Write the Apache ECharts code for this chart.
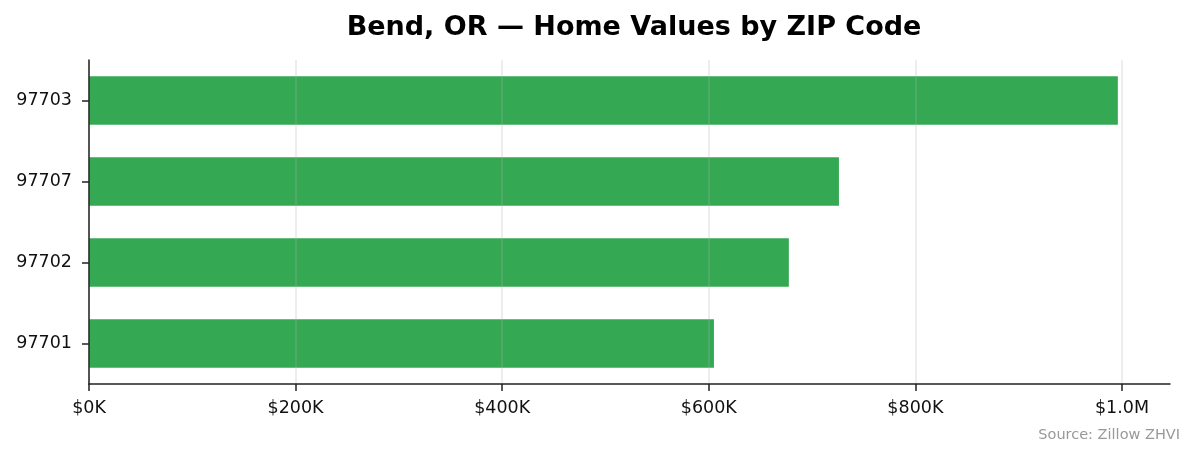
<!DOCTYPE html>
<html>
<head>
<meta charset="utf-8">
<script src="https://cdn.jsdelivr.net/npm/echarts@6/dist/echarts.min.js"></script>
<style>
  html, body { margin: 0; padding: 0; background: #fff; }
  #chart { width: 1195px; height: 455px; }
</style>
</head>
<body>
<div id="chart"></div>
<script>
// ZIP codes, bottom to top as drawn
var zipCodes = ['97701', '97702', '97707', '97703'];
// typical home value (USD)
var homeValues = [605000, 677500, 726000, 996000];
var xTicks = [0, 200000, 400000, 600000, 800000, 1000000];
var xMax = 1046500;

var barColor = '#34a853';
var font = 'DejaVu Sans';

function money(v) {
  if (v >= 1000000) return '$' + (v / 1000000).toFixed(1) + 'M';
  return '$' + Math.round(v / 1000) + 'K';
}

var chart = echarts.init(document.getElementById('chart'));

chart.setOption({
  animation: false,
  title: [{
    text: 'Bend, OR — Home Values by ZIP Code',
    left: 629,
    top: 9,
    textAlign: 'center',
    textStyle: { fontFamily: font, fontSize: 27, fontWeight: 'bold', color: '#000' }
  }, {
    text: 'Source: Zillow ZHVI',
    right: 10,
    top: 423,
    textStyle: { fontFamily: font, fontSize: 14.5, fontWeight: 'normal', color: '#999' }
  }],
  grid: { left: 89, top: 60, width: 1081, height: 324 },
  xAxis: {
    type: 'value',
    min: 0,
    max: xMax,
    z: 5,
    axisLine: { show: true, lineStyle: { color: '#222', width: 1.5 } },
    axisTick: { show: true, length: 7, customValues: xTicks, lineStyle: { color: '#222', width: 1.5 } },
    axisLabel: {
      customValues: xTicks,
      formatter: money,
      fontFamily: font, fontSize: 17.5, color: '#111', margin: 15
    },
    splitLine: { show: true, lineStyle: { color: 'rgba(176,176,176,0.3)', width: 1.5 } }
  },
  yAxis: {
    type: 'category',
    data: zipCodes,
    z: 5,
    axisLine: { show: true, lineStyle: { color: '#222', width: 1.5 } },
    axisTick: { show: true, alignWithLabel: true, length: 7, lineStyle: { color: '#222', width: 1.5 } },
    axisLabel: { fontFamily: font, fontSize: 17.5, color: '#111', margin: 17 },
    splitLine: { show: false }
  },
  series: [{
    type: 'bar',
    data: homeValues,
    barWidth: '60%',
    itemStyle: { color: barColor }
  }]
});
</script>
</body>
</html>
